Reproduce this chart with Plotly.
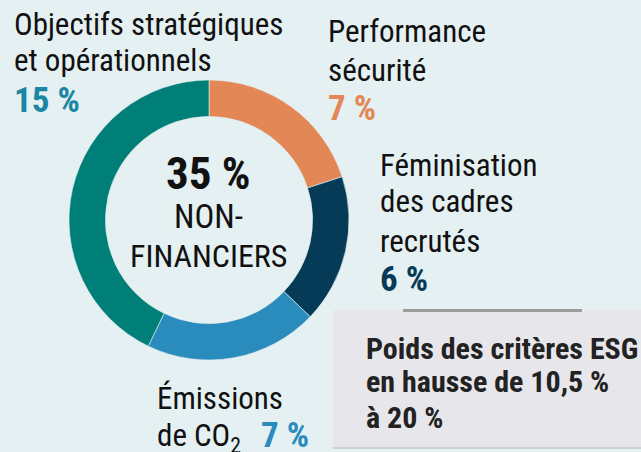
import plotly.graph_objects as go

W, H = 641, 452

labels = ["Performance sécurité", "Féminisation des cadres recrutés", "Émissions de CO2", "Objectifs stratégiques et opérationnels"]
values = [7, 6, 7, 15]
value_labels = ["7 %", "6 %", "7 %", "15 %"]
colors = ["#e38757", "#063b57", "#2a8bbd", "#007f79"]
total_label = "35 %"

FONT = "Roboto Condensed, Liberation Sans Narrow, sans-serif"
BG = "#e4f0f1"

def px(x):
    return x / W

def py(y):
    return 1 - y / H

cx, cy, r = 209, 220, 140

fig = go.Figure(go.Pie(
    labels=labels, values=values, sort=False, direction="clockwise", rotation=0,
    hole=0.74, marker=dict(colors=colors, line=dict(color=BG, width=0.6)),
    textinfo="none", hoverinfo="label+value", showlegend=False,
    domain=dict(x=[px(cx - r), px(cx + r)], y=[py(cy + r), py(cy - r)]),
))

ann = []
def T(text, x, ymid, size=31, color="#111111", bold=False, xanchor="left"):
    t = f"<b>{text}</b>" if bold else text
    ann.append(dict(text=t, x=px(x), y=py(ymid), xref="paper", yref="paper",
                    xanchor=xanchor, yanchor="middle", showarrow=False,
                    font=dict(family=FONT, size=size, color=color)))

NUM = 35
# Objectifs
T("Objectifs stratégiques", 12, 24.5)
T("et opérationnels", 12, 60.5)
T(value_labels[3], 12, 100, size=NUM, color="#1a86a3", bold=True)
# Performance
T("Performance", 326, 31.5)
T("sécurité", 326, 70)
T(value_labels[0], 326, 108, size=NUM, color=colors[0], bold=True)
# Féminisation
T("Féminisation", 378, 165.5)
T("des cadres", 378, 202)
T("recrutés", 378, 241)
T(value_labels[1], 378, 279, size=NUM, color=colors[1], bold=True)
# Émissions
T("Émissions", 155, 398)
T("de CO<sub>2</sub>", 155, 437)
T(value_labels[2], 259, 435, size=NUM, color=colors[2], bold=True)
# centre
T(total_label, cx, 173, size=45, bold=True, xanchor="center")
T("NON-", cx, 216.5, size=33, xanchor="center")
T("FINANCIERS", cx, 256, size=32, xanchor="center")

shapes = [
    dict(type="rect", xref="paper", yref="paper", x0=px(333), x1=1.0, y0=py(449), y1=py(446),
         fillcolor="#cdd1d4", line=dict(width=0), layer="below"),
    dict(type="rect", xref="paper", yref="paper", x0=px(333), x1=1.0, y0=py(447), y1=py(310),
         fillcolor="#e6e6eb", line=dict(width=0), layer="below"),
    dict(type="rect", xref="paper", yref="paper", x0=px(403), x1=px(582), y0=py(312), y1=py(309),
         fillcolor="#9c9c9c", line=dict(width=0)),
]

T("Poids des critères ESG", 364, 348, size=30, color="#222222", bold=True)
T("en hausse de 10,5 %", 364, 381, size=30, color="#222222", bold=True)
T("à 20 %", 364, 417, size=30, color="#222222", bold=True)

fig.update_layout(
    width=W, height=H, margin=dict(l=0, r=0, t=0, b=0),
    paper_bgcolor=BG, plot_bgcolor=BG,
    annotations=ann, shapes=shapes,
)

fig.write_html("out.html", config={"displayModeBar": False},
               post_script="document.body.style.margin='0px';")
